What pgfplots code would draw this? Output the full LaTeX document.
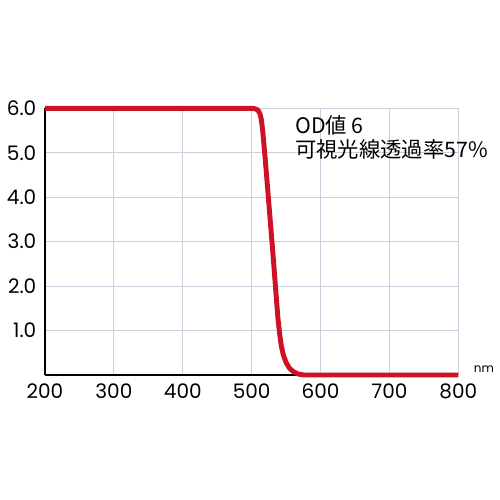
\documentclass[border=0pt]{standalone}
\usepackage{fontspec}
\setmainfont{Poppins}
\newfontfamily\cjk{Noto Sans CJK JP}
\usepackage{pgfplots}
\pgfplotsset{compat=1.18}
\definecolor{odred}{RGB}{206,18,38}
\definecolor{gridc}{RGB}{200,208,222}
\begin{document}
\begin{tikzpicture}[x=0.75pt,y=0.75pt]
\useasboundingbox (-45,-125) rectangle (455,375);
\begin{axis}[
  at={(0,0)}, anchor=south west,
  scale only axis, width=310pt, height=200pt,
  xmin=200, xmax=800, ymin=0, ymax=6,
  axis x line*=bottom, axis y line*=left,
  axis line style={black, line width=1.1pt, -},
  xtick={200,300,...,800}, ytick={1,2,...,6},
  major tick length=0pt,
  grid=major, major grid style={gridc, line width=0.8pt},
  clip=false,
  /pgf/number format/assume math mode=true,
  xticklabel style={font=\fontsize{15}{17}\selectfont, yshift=-3pt, /pgf/number format/1000 sep={}},
  yticklabel style={font=\fontsize{15}{17}\selectfont, xshift=-3pt, /pgf/number format/.cd, fixed, fixed zerofill, precision=1},
]
\addplot[odred, line width=3.7pt, line join=round] coordinates {
(200,6) (500,6) (505,5.99) (509,5.96) (512,5.88) (514,5.75) (516,5.5)
(520,4.8) (530,2.9) (538,1.3) (541,0.88) (543,0.66) (546,0.45) (550,0.28)
(555,0.15) (561,0.07) (568,0.02) (576,0) (800,0)
};
\end{axis}
\node[anchor=west, font=\cjk\fontsize{16}{18}\selectfont, inner sep=0pt] at (250,250) {OD値 6};
\node[anchor=west, font=\cjk\fontsize{16}{18}\selectfont, inner sep=0pt] at (250,226) {可視光線透過率57\%};
\node[anchor=center, font=\fontsize{9}{10}\selectfont, inner sep=0pt] at (439,6) {nm};
\end{tikzpicture}
\end{document}
